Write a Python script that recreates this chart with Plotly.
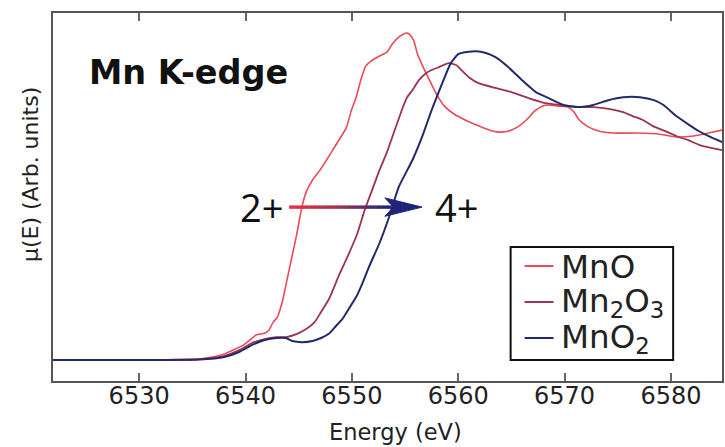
import plotly.graph_objects as go

# Mn K-edge XANES spectra (normalised absorption, arbitrary units)
mno_energy = [6521.9, 6530.0, 6535.7, 6536.9, 6538.0, 6538.8, 6539.8, 6540.4, 6541.0, 6541.8,
              6542.2, 6542.6, 6543.0, 6543.5, 6543.8, 6544.3, 6544.8, 6545.3, 6545.7, 6546.3,
              6547.0, 6548.2, 6549.5, 6549.9, 6550.4, 6550.9, 6551.3, 6551.8, 6552.6, 6553.3,
              6553.8, 6554.4, 6555.1, 6555.4, 6555.8, 6556.2, 6556.7, 6557.3, 6557.9, 6558.7,
              6559.6, 6560.7, 6562.0, 6563.2, 6564.1, 6565.0, 6565.7, 6566.5, 6567.2, 6567.9,
              6568.5, 6569.4, 6570.3, 6570.9, 6571.3, 6572.1, 6573.2, 6574.6, 6576.8, 6578.8,
              6580.5, 6582.1, 6583.5, 6584.8]
mno_mu = [0.000, 0.000, 0.004, 0.013, 0.026, 0.043, 0.065, 0.087, 0.109, 0.117,
          0.130, 0.165, 0.187, 0.261, 0.326, 0.435, 0.543, 0.665, 0.730, 0.783,
          0.826, 0.913, 1.013, 1.078, 1.143, 1.226, 1.278, 1.300, 1.322, 1.339,
          1.374, 1.404, 1.422, 1.417, 1.391, 1.326, 1.274, 1.217, 1.161, 1.104,
          1.070, 1.043, 1.017, 0.996, 0.991, 1.000, 1.017, 1.048, 1.083, 1.104,
          1.109, 1.104, 1.100, 1.078, 1.048, 1.017, 0.996, 0.987, 0.987, 0.983,
          0.970, 0.974, 0.987, 1.000]

mn2o3_energy = [6521.9, 6530.0, 6535.7, 6538.0, 6539.4, 6540.6, 6541.8, 6542.9, 6543.8, 6544.8,
                6545.7, 6546.5, 6547.1, 6547.9, 6548.8, 6549.7, 6550.5, 6551.2, 6551.9, 6552.6,
                6553.3, 6553.8, 6554.3, 6554.8, 6555.2, 6555.7, 6556.3, 6557.0, 6557.5, 6558.2,
                6559.1, 6559.8, 6560.3, 6561.0, 6561.9, 6563.5, 6565.0, 6566.6, 6568.2, 6569.6,
                6571.1, 6572.7, 6574.3, 6575.5, 6576.4, 6577.4, 6578.3, 6579.7, 6580.7, 6581.6,
                6582.7, 6584.8]
mn2o3_mu = [0.000, 0.000, 0.004, 0.017, 0.043, 0.074, 0.091, 0.100, 0.100, 0.113,
            0.135, 0.165, 0.209, 0.270, 0.370, 0.461, 0.548, 0.652, 0.739, 0.826,
            0.904, 0.970, 1.035, 1.100, 1.143, 1.174, 1.217, 1.248, 1.261, 1.274,
            1.291, 1.283, 1.261, 1.230, 1.204, 1.183, 1.165, 1.139, 1.117, 1.109,
            1.100, 1.100, 1.091, 1.078, 1.061, 1.043, 1.017, 0.991, 0.970, 0.957,
            0.935, 0.913]

mno2_energy = [6521.9, 6530.0, 6535.7, 6538.0, 6539.4, 6540.6, 6541.8, 6542.9, 6543.8, 6544.4,
               6545.3, 6546.3, 6547.1, 6547.9, 6548.5, 6549.1, 6549.7, 6550.4, 6551.0, 6551.6,
               6552.6, 6553.5, 6554.4, 6555.7, 6556.6, 6557.5, 6558.5, 6559.3, 6560.0, 6560.8,
               6561.7, 6562.6, 6563.5, 6564.7, 6566.0, 6567.3, 6568.5, 6569.9, 6571.3, 6572.7,
               6574.1, 6575.5, 6577.1, 6578.4, 6579.3, 6580.5, 6581.6, 6582.6, 6583.7, 6584.8]
mno2_mu = [0.000, 0.000, 0.002, 0.013, 0.035, 0.065, 0.087, 0.096, 0.096, 0.083,
           0.078, 0.083, 0.096, 0.117, 0.148, 0.178, 0.222, 0.274, 0.335, 0.404,
           0.509, 0.622, 0.752, 0.870, 0.970, 1.087, 1.204, 1.291, 1.330, 1.339,
           1.343, 1.335, 1.317, 1.274, 1.217, 1.165, 1.139, 1.109, 1.100, 1.109,
           1.130, 1.143, 1.143, 1.130, 1.109, 1.061, 1.026, 0.996, 0.970, 0.948]

series_names = ["MnO", "Mn<sub>2</sub>O<sub>3</sub>", "MnO<sub>2</sub>"]
series_colors = ["#ec4a5a", "#9c3352", "#232a6c"]
series_widths = [1.6, 1.8, 2.0]

energy_ticks = [6530, 6540, 6550, 6560, 6570, 6580]

# Oxidation-state arrow (energy span and height in data units)
arrow_start, arrow_head_base, arrow_tip, arrow_level = 6544.1, 6553.1, 6556.6, 0.665
oxidation_labels = ["2+", "4+"]

SANS = "DejaVu Sans, sans-serif"
OPEN = "Open Sans, Noto Sans, sans-serif"

# plot-area geometry in pixels, used to place the framed legend and labels
L, R, T, B = 53, 724, 13, 381


def px(x):
    return (x - L) / (R - L)


def py(y):
    return (B - y) / (B - T)


fig = go.Figure()
for e, mu, name, col, w in zip([mno_energy, mn2o3_energy, mno2_energy],
                               [mno_mu, mn2o3_mu, mno2_mu],
                               series_names, series_colors, series_widths):
    fig.add_trace(go.Scatter(x=e, y=mu, mode="lines", name=name, showlegend=False,
                             line=dict(color=col, width=w, shape="spline", smoothing=0.5)))


def mix(c1, c2, t):
    a = [int(c1[i:i + 2], 16) for i in (1, 3, 5)]
    b = [int(c2[i:i + 2], 16) for i in (1, 3, 5)]
    return "rgb(%d,%d,%d)" % tuple(round(a[k] + (b[k] - a[k]) * t) for k in range(3))


# Gradient shaft: red -> maroon -> navy
shapes = []
n_seg = 24
shaft_end = arrow_head_base + 0.6
for i in range(n_seg):
    x0 = arrow_start + (shaft_end - arrow_start) * i / n_seg
    x1 = arrow_start + (shaft_end - arrow_start) * (i + 1) / n_seg
    t = i / (n_seg - 1)
    col = mix("#e8303f", "#9c3352", t / 0.5) if t < 0.5 else mix("#9c3352", "#1f237a", (t - 0.5) / 0.5)
    shapes.append(dict(type="line", xref="x", yref="y", x0=x0, x1=x1 + 0.05,
                       y0=arrow_level, y1=arrow_level, line=dict(color=col, width=3.4)))

half_h = 0.040
notch = arrow_head_base + 0.8
head_path = (f"M {arrow_tip},{arrow_level} L {arrow_head_base},{arrow_level + half_h} "
             f"L {notch},{arrow_level} L {arrow_head_base},{arrow_level - half_h} Z")
shapes.append(dict(type="path", xref="x", yref="y", path=head_path,
                   fillcolor="#1f237a", line=dict(color="#1f237a", width=1)))

# Framed legend
shapes.append(dict(type="rect", xref="paper", yref="paper", x0=px(512), x1=px(675),
                   y0=py(360), y1=py(247), fillcolor="white", line=dict(color="#111", width=2)))
legend_rows = [266, 302, 338]
annotations = []
for row, name, col in zip(legend_rows, series_names, series_colors):
    shapes.append(dict(type="line", xref="paper", yref="paper", x0=px(526), x1=px(555),
                       y0=py(row), y1=py(row), line=dict(color=col, width=2)))
    annotations.append(dict(text=name, xref="paper", yref="paper", x=px(562), y=py(row),
                            xanchor="left", yanchor="middle", height=35, valign="middle",
                            borderpad=0, showarrow=False,
                            font=dict(family=SANS, size=32.5, color="#222")))

annotations += [
    dict(text="<b>Mn K-edge</b>", xref="paper", yref="paper", x=px(87), y=py(73),
         xanchor="left", yanchor="middle", showarrow=False,
         font=dict(family=SANS, size=33.5, color="#111")),
    dict(text=oxidation_labels[0], xref="x", yref="y", x=arrow_start - 0.35, y=arrow_level,
         xanchor="right", yanchor="middle", showarrow=False,
         font=dict(family=OPEN, size=38, color="#111")),
    dict(text=oxidation_labels[1], xref="x", yref="y", x=arrow_tip + 1.0, y=arrow_level,
         xanchor="left", yanchor="middle", showarrow=False,
         font=dict(family=OPEN, size=38, color="#111")),
    dict(text="μ(E) (Arb. units)", xref="paper", yref="paper", x=px(31), y=py(175),
         xanchor="center", yanchor="middle", textangle=-90, showarrow=False,
         font=dict(family=SANS, size=22, color="#222")),
    dict(text="Energy (eV)", xref="paper", yref="paper", x=px(397), y=py(432),
         xanchor="center", yanchor="middle", showarrow=False,
         font=dict(family=SANS, size=22.5, color="#222")),
]

fig.update_layout(
    width=725, height=447,
    margin=dict(l=L, r=725 - R, t=T, b=447 - B),
    paper_bgcolor="white", plot_bgcolor="white",
    font=dict(family=SANS, color="#222"),
    showlegend=False,
    shapes=shapes,
    annotations=annotations,
)
fig.update_xaxes(range=[6521.9, 6584.8], tickvals=energy_ticks,
                 ticks="inside", ticklen=8, tickwidth=1.5, tickcolor="#666",
                 showline=True, linecolor="#555", linewidth=2, mirror="ticks",
                 showgrid=False, zeroline=False, ticklabelstandoff=-8,
                 tickfont=dict(family=SANS, size=24, color="#222"))
fig.update_yaxes(range=[-0.091, 1.509], showticklabels=False, ticks="",
                 showline=True, linecolor="#555", linewidth=2, mirror=True,
                 showgrid=False, zeroline=False)

fig.write_html("out.html")
